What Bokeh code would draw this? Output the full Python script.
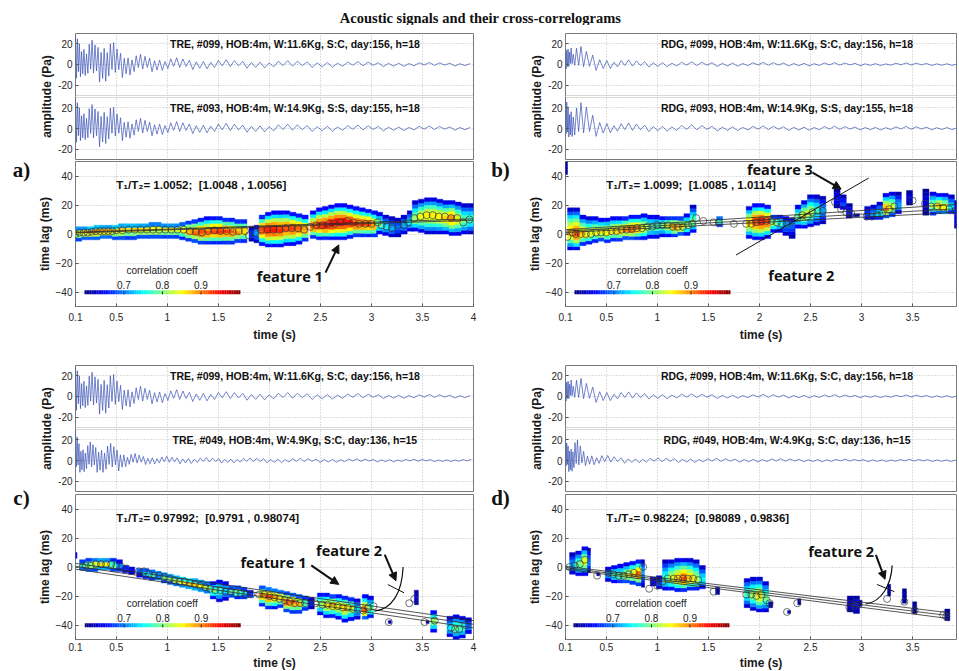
import numpy as np
from bokeh.plotting import figure
from bokeh.models import (Range1d, FixedTicker, CustomJSTickFormatter, BoxAnnotation,
                          Label, Arrow, NormalHead, ColumnDataSource)
from bokeh.transform import linear_cmap
from bokeh.layouts import column, row
from bokeh.embed import file_html
from bokeh.resources import INLINE

# ------------------------------------------------------------------ data
TITLE = "Acoustic signals and their cross-correlograms"
X_TICKS_L = [0.1, 0.5, 1, 1.5, 2, 2.5, 3, 3.5, 4]
X_TICKS_R = [0.1, 0.5, 1, 1.5, 2, 2.5, 3, 3.5]
LAG_TICKS = [-40, -20, 0, 20, 40]
CB_TICKS = [0.7, 0.8, 0.9]
PANEL_LETTERS = ["a)", "b)", "c)", "d)"]

# waveform envelopes (positive / negative peaks, Pa) and half periods (s)
WAVE_T = [0.1, 0.15, 0.2, 0.3, 0.4, 0.5, 0.6, 0.8, 1.0, 1.3, 1.6, 2.0, 2.5, 3.0, 3.5, 4.0]
TEXTURE = [1.0, 0.5, 0.85, 0.35, 0.7, 0.95, 0.45, 0.75, 0.55, 0.9, 0.4, 0.65, 0.8, 0.3]

tre099_pos = [30, 28, 26, 22, 30, 18, 12, 9, 7, 5.5, 4.5, 4, 3.5, 2.5, 2, 1.5]
tre099_neg = [-30, -12, -12, -18, -18, -15, -12, -8, -6, -5, -4, -3.5, -3, -2.2, -1.8, -1.3]
tre093_pos = [30, 28, 25, 22, 30, 17, 12, 9, 7, 6, 5, 4.5, 4, 3, 2.5, 2]
tre093_neg = [-30, -12, -12, -20, -16, -14, -11, -8, -6, -5, -4, -3.5, -3, -2.5, -2, -1.5]
tre049_pos = [30, 20, 18, 18, 18, 15, 8, 5, 4, 3, 2.5, 2.5, 2, 1.5, 1.2, 1]
tre049_neg = [-12, -12, -12, -12, -13, -12, -6, -4, -3.5, -3, -2.5, -2.5, -2, -1.5, -1.2, -1]
tre_hp = [0.009, 0.011, 0.013, 0.015, 0.015, 0.017, 0.019, 0.023, 0.028, 0.035, 0.04, 0.045, 0.05, 0.05, 0.05, 0.05]
tre049_hp = [0.008, 0.01, 0.012, 0.014, 0.015, 0.016, 0.018, 0.022, 0.025, 0.03, 0.03, 0.035, 0.04, 0.04, 0.04, 0.04]

rdg099_pos = [12, 30, 20, 15, 12, 7, 5, 4, 3.5, 2.5, 2.5, 2, 2, 1.5, 1.5, 1.2]
rdg099_neg = [-10, 2, -2, -5, -6, -5, -3.5, -3, -2.5, -2, -2, -1.5, -1.5, -1.2, -1, -1]
rdg093_pos = [30, 30, 25, 25, 15, 9, 6, 5, 4, 3.5, 3, 2.5, 2.5, 2, 2, 1.5]
rdg093_neg = [-10, -8, -10, -8, -8, -5, -4, -3.5, -3, -2.5, -2.5, -2, -2, -1.5, -1.5, -1]
rdg049_pos = [20, 20, 22, 10, 7, 5, 4, 3, 2.5, 2.5, 2, 2, 1.5, 1.2, 1.2, 1]
rdg049_neg = [-10, -12, -10, -5, -4.5, -3.5, -3, -2.5, -2.2, -2, -1.8, -1.5, -1.2, -1.2, -1, -1]
rdg_hp = [0.006, 0.008, 0.02, 0.03, 0.035, 0.035, 0.035, 0.04, 0.045, 0.05, 0.05, 0.05, 0.05, 0.05, 0.05, 0.05]
rdg049_hp = [0.006, 0.008, 0.012, 0.02, 0.025, 0.03, 0.035, 0.035, 0.04, 0.04, 0.045, 0.045, 0.045, 0.045, 0.045, 0.045]

wave_labels = {
    "a1": "TRE, #099, HOB:4m, W:11.6Kg, S:C, day:156, h=18",
    "a2": "TRE, #093, HOB:4m, W:14.9Kg, S:S, day:155, h=18",
    "b1": "RDG, #099, HOB:4m, W:11.6Kg, S:C, day:156, h=18",
    "b2": "RDG, #093, HOB:4m, W:14.9Kg, S:S, day:155, h=18",
    "c1": "TRE, #099, HOB:4m, W:11.6Kg, S:C, day:156, h=18",
    "c2": "TRE, #049, HOB:4m, W:4.9Kg, S:C, day:136, h=15",
    "d1": "RDG, #099, HOB:4m, W:11.6Kg, S:C, day:156, h=18",
    "d2": "RDG, #049, HOB:4m, W:4.9Kg, S:C, day:136, h=15",
}
ratio_text = {
    "a": "T\u2081/T\u2082= 1.0052; \u00a0[1.0048 , 1.0056]",
    "b": "T\u2081/T\u2082= 1.0099; \u00a0[1.0085 , 1.0114]",
    "c": "T\u2081/T\u2082= 0.97992; \u00a0[0.9791 , 0.98074]",
    "d": "T\u2081/T\u2082= 0.98224; \u00a0[0.98089 , 0.9836]",
}

# correlogram columns: (time s, peak lag ms, peak corr, top lag, bottom lag[, width s])
a_columns = [
    (0.13, 1, 0.86, 5, -5), (0.19, 1, 0.88, 5, -4), (0.25, 1.5, 0.9, 5, -4), (0.31, 2, 0.9, 6, -4),
    (0.37, 2, 0.9, 6, -3), (0.43, 2, 0.89, 6, -3), (0.49, 2.5, 0.88, 6, -4), (0.55, 2.5, 0.88, 7, -4),
    (0.61, 3, 0.86, 7, -4), (0.67, 3, 0.87, 7, -4), (0.73, 3, 0.87, 7, -3), (0.79, 3, 0.87, 7, -3),
    (0.85, 3, 0.86, 8, -3), (0.91, 3, 0.86, 8, -3), (0.97, 3, 0.85, 7, -3), (1.03, 3, 0.86, 7, -3),
    (1.09, 3, 0.85, 7, -3), (1.15, 3, 0.86, 8, -4),
    (1.21, 2, 0.9, 9, -5), (1.27, 1.5, 0.92, 10, -6), (1.33, 1, 0.93, 11, -7), (1.39, 1, 0.92, 12, -7),
    (1.45, 2, 0.93, 12, -7), (1.51, 2, 0.94, 12, -7), (1.57, 2, 0.93, 11, -7), (1.63, 1.5, 0.92, 11, -7),
    (1.69, 1.5, 0.9, 10, -6), (1.75, 2, 0.88, 10, -6),
    (1.83, 0, 0.68, 5, -5), (1.88, 1, 0.72, 6, -6),
    (1.93, 3, 0.93, 13, -8), (1.99, 3, 0.95, 15, -9), (2.05, 3, 0.95, 16, -9), (2.11, 3, 0.94, 16, -9),
    (2.17, 4, 0.93, 16, -8), (2.23, 4, 0.93, 15, -8), (2.29, 4, 0.92, 14, -7), (2.35, 3, 0.9, 13, -5),
    (2.43, 5, 0.92, 16, -3), (2.49, 6, 0.94, 18, -4), (2.55, 6, 0.95, 19, -4), (2.61, 7, 0.96, 20, -4),
    (2.67, 8, 0.96, 21, -4), (2.73, 8, 0.96, 21, -4), (2.79, 8, 0.95, 20, -3), (2.85, 7, 0.94, 19, -2),
    (2.91, 7, 0.93, 18, -2), (2.97, 7, 0.93, 17, -2), (3.03, 6, 0.9, 16, -2),
    (3.08, 7, 0.8, 15, 0), (3.14, 5, 0.75, 13, -1), (3.2, 4, 0.72, 12, -2), (3.26, 5, 0.7, 11, -2),
    (3.32, 6, 0.72, 13, 0), (3.38, 8, 0.75, 16, 2),
    (3.43, 10, 0.82, 23, 2), (3.49, 12, 0.85, 24, 1), (3.55, 13, 0.86, 25, 0), (3.61, 13, 0.86, 25, 0),
    (3.67, 12, 0.86, 24, 0), (3.73, 11, 0.87, 23, 0), (3.79, 11, 0.9, 23, -1), (3.85, 10, 0.85, 22, -1),
    (3.91, 9, 0.8, 21, 0), (3.97, 10, 0.78, 21, 0),
]
a_circles = [
    (0.1, 0), (0.14, 1), (0.18, 1), (0.22, 1), (0.26, 1.5), (0.3, 2), (0.34, 2), (0.38, 2), (0.42, 2),
    (0.46, 2), (0.5, 2.5), (0.56, 2.5), (0.62, 3), (0.68, 3), (0.74, 3), (0.8, 3), (0.86, 3), (0.92, 3),
    (0.98, 3), (1.04, 3), (1.1, 3), (1.16, 3), (1.22, 2), (1.28, 1.5), (1.34, 1), (1.4, 2), (1.46, 2.5),
    (1.52, 2), (1.58, 2), (1.64, 1.5), (1.7, 2), (1.76, 2), (1.8, -1), (1.86, 1), (1.92, 3), (1.98, 3),
    (2.04, 3), (2.1, 3), (2.16, 4), (2.22, 4), (2.28, 4), (2.34, 3), (2.4, 5), (2.46, 6), (2.52, 6),
    (2.58, 7), (2.64, 7), (2.7, 8), (2.76, 9), (2.82, 8), (2.88, 7), (2.94, 7), (3.0, 7), (3.06, 8),
    (3.1, 6), (3.15, 5), (3.2, 4), (3.26, 6), (3.32, 6), (3.36, 8), (3.42, 11), (3.48, 12), (3.54, 13),
    (3.6, 13), (3.66, 12), (3.72, 12), (3.78, 11), (3.84, 11), (3.9, 8), (3.96, 10),
]
a_fits = [(0.1, 1.2, 4.0, 10.5), (0.1, 0.8, 4.0, 9.5)]

b_columns = [
    (0.105, 45, 0.62, 50, 41, 0.03), (0.15, 1, 0.88, 18, -11), (0.21, 0, 0.92, 18, -11),
    (0.27, 0, 0.88, 13, -8), (0.33, 0, 0.85, 12, -7), (0.39, 1, 0.85, 12, -6), (0.45, 1, 0.86, 11, -5),
    (0.51, 1, 0.86, 11, -6), (0.57, 2, 0.87, 12, -5), (0.63, 2, 0.88, 12, -5), (0.69, 3, 0.9, 12, -4),
    (0.75, 3, 0.92, 13, -4), (0.81, 4, 0.9, 13, -4), (0.87, 4, 0.85, 14, -4), (0.93, 5, 0.8, 13, -3),
    (0.99, 5, 0.78, 13, -3), (1.05, 6, 0.8, 12, -2), (1.11, 6, 0.85, 12, -2), (1.17, 5, 0.9, 12, -2),
    (1.23, 5, 0.88, 12, -1), (1.29, 6, 0.82, 14, -1), (1.35, 8, 0.8, 20, 1), (1.61, 9, 0.78, 12, 5),
    (1.9, 8, 0.88, 19, -3), (1.96, 9, 0.93, 21, -4), (2.02, 9, 0.95, 21, -4), (2.08, 9, 0.93, 20, -3),
    (2.14, 8, 0.82, 13, 1), (2.2, 8, 0.78, 13, 1), (2.26, 7, 0.72, 12, -1), (2.32, 8, 0.7, 11, -3),
    (2.38, 12, 0.8, 20, 4), (2.44, 13, 0.85, 23, 4), (2.5, 15, 0.83, 27, 5), (2.56, 16, 0.78, 27, 6),
    (2.62, 16, 0.72, 26, 7), (2.76, 24, 0.66, 31, 18), (2.82, 20, 0.68, 27, 17), (2.88, 15, 0.66, 21, 11),
    (2.95, 13, 0.62, 14, 12), (3.06, 14, 0.68, 19, 10), (3.12, 14, 0.72, 20, 10), (3.18, 14, 0.75, 22, 10),
    (3.24, 17, 0.9, 28, 11), (3.3, 18, 0.85, 29, 12), (3.36, 19, 0.72, 29, 14), (3.47, 25, 0.64, 30, 20),
    (3.63, 22, 0.64, 31, 13), (3.7, 19, 0.82, 29, 13), (3.76, 19, 0.88, 28, 14), (3.82, 18, 0.86, 28, 14),
    (3.88, 18, 0.75, 27, 14), (3.94, 16, 0.66, 23, 4),
]
b_circles = [
    (0.12, -2), (0.17, 1), (0.2, 0), (0.25, 0), (0.3, 0), (0.35, 0), (0.4, 1), (0.45, 1), (0.5, 1),
    (0.55, 2), (0.6, 2), (0.65, 3), (0.7, 3), (0.75, 3.5), (0.8, 4), (0.85, 4), (0.9, 5), (0.95, 5),
    (1.0, 6), (1.05, 6), (1.1, 6), (1.15, 5), (1.2, 5), (1.25, 5), (1.3, 6), (1.34, 7), (1.38, 11),
    (1.45, 9), (1.55, 8), (1.6, 8), (1.75, 7), (1.87, 7), (1.92, 7), (1.97, 8), (2.02, 9), (2.07, 9),
    (2.12, 9), (2.17, 8), (2.22, 7), (2.27, 7), (2.32, 9), (2.37, 11), (2.42, 13), (2.47, 12), (2.52, 15),
    (2.57, 16), (2.62, 16), (2.74, 22), (2.8, 17), (2.85, 15), (2.9, 14), (3.05, 12), (3.1, 12),
    (3.15, 13), (3.2, 14), (3.27, 17), (3.32, 19), (3.5, 23), (3.62, 21), (3.68, 19), (3.74, 19),
    (3.8, 18), (3.86, 17), (3.92, 16),
]
b_fits = [(0.1, 3, 3.95, 20.5), (0.1, 2, 3.95, 17.5), (0.1, 1, 3.95, 15)]

c_columns = [
    (0.1, 8, 0.68, 10, 6, 0.03), (0.17, 1, 0.78, 5, -2), (0.23, 1, 0.82, 6, -3), (0.29, 2, 0.85, 6, -3),
    (0.35, 2, 0.86, 6, -2), (0.41, 2, 0.85, 6, -2), (0.47, 1, 0.8, 6, -3), (0.53, 0, 0.72, 5, -3),
    (0.59, -1, 0.68, 1, -4), (0.65, -2, 0.66, 0, -5), (0.73, -3, 0.7, -1, -7), (0.79, -4, 0.76, -1, -8),
    (0.85, -5, 0.78, -2, -9), (0.91, -6, 0.76, -3, -9), (0.97, -7, 0.8, -4, -11), (1.03, -8, 0.82, -5, -12),
    (1.09, -9, 0.84, -6, -13), (1.15, -10, 0.86, -7, -14), (1.21, -11, 0.88, -8, -15),
    (1.27, -12, 0.87, -8, -16), (1.33, -13, 0.85, -9, -17), (1.39, -14, 0.82, -10, -18),
    (1.45, -16, 0.8, -10, -22), (1.51, -16, 0.78, -9, -24), (1.57, -16, 0.74, -10, -23),
    (1.63, -17, 0.78, -13, -21), (1.69, -17, 0.8, -13, -22), (1.75, -18, 0.76, -14, -22),
    (1.81, -19, 0.7, -16, -21), (1.93, -19, 0.9, -13, -27), (1.99, -20, 0.93, -14, -29),
    (2.05, -20, 0.9, -15, -29), (2.11, -21, 0.88, -16, -28), (2.17, -24, 0.93, -17, -31),
    (2.23, -24, 0.92, -18, -32), (2.29, -25, 0.88, -19, -32), (2.35, -25, 0.8, -20, -30),
    (2.41, -25, 0.66, -21, -29), (2.5, -25, 0.82, -18, -33), (2.56, -26, 0.86, -18, -35),
    (2.62, -26, 0.88, -19, -35), (2.68, -27, 0.86, -19, -36), (2.74, -28, 0.88, -20, -38),
    (2.8, -28, 0.84, -21, -37), (2.86, -29, 0.75, -22, -36), (2.94, -30, 0.92, -19, -36),
    (2.99, -29, 0.8, -20, -35), (3.18, -38, 0.62, -37, -39, 0.03), (3.44, -22, 0.64, -16, -26, 0.04),
    (3.55, -38, 0.62, -37, -39, 0.03), (3.61, -37, 0.82, -30, -45), (3.77, -42, 0.75, -34, -48),
    (3.83, -42, 0.8, -33, -50), (3.89, -42, 0.78, -34, -49), (3.95, -41, 0.7, -35, -46),
]
c_circles = [
    (0.17, 0), (0.2, 1), (0.25, 1), (0.3, 2), (0.35, 2), (0.4, 2), (0.45, 2), (0.5, 1), (0.55, 0),
    (0.6, -1), (0.72, -3), (0.77, -3), (0.82, -5), (0.87, -6), (0.92, -6), (0.97, -7), (1.02, -8),
    (1.07, -9), (1.12, -10), (1.17, -10), (1.22, -11), (1.27, -12), (1.32, -13), (1.37, -14),
    (1.42, -15), (1.47, -16), (1.52, -16), (1.57, -17), (1.62, -17), (1.67, -18), (1.72, -18),
    (1.77, -19), (1.82, -19), (1.9, -19), (1.95, -19), (2.0, -20), (2.05, -21), (2.1, -22), (2.15, -23),
    (2.2, -24), (2.25, -25), (2.3, -25), (2.35, -25), (2.45, -25), (2.52, -26), (2.57, -26), (2.62, -27),
    (2.67, -27), (2.72, -28), (2.77, -28), (2.82, -29), (2.87, -29), (2.92, -30), (2.97, -28),
    (3.02, -27), (3.17, -38), (3.37, -25), (3.42, -22), (3.52, -38), (3.62, -37), (3.78, -42),
    (3.82, -43), (3.86, -43), (3.92, -40),
]
c_fits = [(0.1, 2.5, 4.0, -37), (0.1, 0.5, 4.0, -39.5), (0.1, -1.5, 4.0, -42)]

d_columns = [
    (0.17, 1, 0.72, 10, -5), (0.23, 2, 0.8, 11, -6), (0.29, 4, 0.85, 14, -6), (0.33, 3, 0.7, 13, -4, 0.03),
    (0.42, -5, 0.62, -4, -6, 0.03), (0.52, -5, 0.72, 0, -10), (0.58, -5, 0.78, 1, -11),
    (0.64, -6, 0.8, 2, -11), (0.7, -6, 0.84, 3, -11), (0.76, -5, 0.87, 4, -12), (0.82, -5, 0.92, 5, -13),
    (0.86, -3, 0.72, 5, -14, 0.03), (0.96, -10, 0.66, -7, -13), (1.02, -11, 0.68, -6, -15),
    (1.08, -9, 0.78, 5, -16), (1.14, -8, 0.84, 5, -16), (1.2, -8, 0.88, 6, -17), (1.26, -8, 0.92, 6, -17),
    (1.32, -8, 0.88, 6, -16), (1.38, -9, 0.84, 5, -16), (1.44, -9, 0.76, 1, -15),
    (1.59, -17, 0.62, -14, -19, 0.04), (1.88, -18, 0.78, -8, -28), (1.94, -19, 0.82, -7, -30),
    (2.0, -20, 0.86, -7, -31), (2.06, -21, 0.8, -10, -31), (2.11, -26, 0.62, -24, -28, 0.04),
    (2.29, -31, 0.62, -30, -32, 0.03), (2.39, -24, 0.62, -22, -26, 0.03), (2.89, -26, 0.64, -20, -31),
    (2.95, -26, 0.66, -20, -32), (2.99, -25, 0.62, -23, -27, 0.03), (3.27, -16, 0.62, -12, -20, 0.03),
    (3.42, -20, 0.62, -15, -25, 0.04), (3.52, -28, 0.62, -24, -32, 0.04), (3.84, -33, 0.62, -29, -37, 0.05),
]
d_circles = [
    (0.14, 0), (0.19, 1), (0.24, 2), (0.29, 5), (0.41, -6), (0.52, -4), (0.57, -5), (0.62, -6), (0.67, -6),
    (0.72, -5), (0.77, -4), (0.86, 0), (0.92, -15), (0.97, -10), (1.0, -13), (1.05, -10), (1.1, -8),
    (1.16, -8), (1.2, -8), (1.25, -8), (1.3, -8), (1.35, -8), (1.4, -9), (1.55, -17), (1.87, -19),
    (1.92, -19), (1.97, -20), (2.02, -19), (2.07, -23), (2.1, -25), (2.27, -31), (2.37, -25), (2.88, -28),
    (2.93, -27), (2.97, -26), (3.25, -22), (3.42, -24), (3.52, -30), (3.8, -33), (3.83, -34),
]
d_fits = [(0.1, 0.5, 3.85, -31.5), (0.1, -0.5, 3.85, -33.5), (0.1, -1.5, 3.85, -35.5)]

# ------------------------------------------------------------------ helpers
FONT = "Liberation Sans"
WAVE_COLOR = "#3a52b4"


def jet(n=256):
    out = []
    for i in range(n):
        x = i / (n - 1)
        r = min(max(1.5 - abs(4 * x - 3), 0), 1)
        g = min(max(1.5 - abs(4 * x - 2), 0), 1)
        b = min(max(1.5 - abs(4 * x - 1), 0), 1)
        out.append("#%02x%02x%02x" % (round(r * 255), round(g * 255), round(b * 255)))
    return out


JET = jet(256)
CMAP_LOW, CMAP_HIGH = 0.6, 1.0


def build_wave(pos, neg, hp, t_end=4.0):
    ts, ys = [], []
    t, k = WAVE_T[0], 0
    while t <= t_end:
        env = float(np.interp(t, WAVE_T, pos if k % 2 == 0 else neg))
        ys.append(float(np.clip(env * TEXTURE[k % len(TEXTURE)], -30, 30)))
        ts.append(t)
        t += float(np.interp(t, WAVE_T, hp))
        k += 1
    return ts, ys


def build_cells(cols, dh=2.5):
    xs, ys, ws, hs, rs = [], [], [], [], []
    for col in cols:
        t, c, r, top, bot = col[:5]
        w = col[5] if len(col) > 5 else 0.06
        n = max(1, int(round((top - bot) / dh)))
        h = (top - bot) / n
        for i in range(n):
            y = bot + h * (i + 0.5)
            d = y - c
            ext = (top - c) if d > 0 else (c - bot)
            frac = min(abs(d) / ext, 1.0) if ext > 0 else 1.0
            xs.append(t); ys.append(y); ws.append(w); hs.append(h + 0.05)
            rs.append(r - (r - CMAP_LOW) * frac ** 1.5)
    return dict(x=xs, y=ys, w=ws, h=hs, r=rs)


def style(p):
    p.background_fill_color = "white"
    p.border_fill_color = "white"
    p.outline_line_color = "#7a7a7a"
    p.outline_line_width = 1
    p.grid.grid_line_color = "#bdbdbd"
    p.grid.grid_line_dash = "1 2"
    p.grid.grid_line_width = 1
    for ax in p.axis:
        ax.axis_line_color = None
        ax.major_tick_in = 3
        ax.major_tick_out = 0
        ax.minor_tick_line_color = None
        ax.major_tick_line_color = "#555555"
        ax.major_label_text_font = FONT
        ax.major_label_text_font_size = "10px"
        ax.major_label_text_color = "#262626"
        ax.major_label_standoff = 3
        ax.axis_label_text_font = FONT
        ax.axis_label_text_font_size = "12px"
        ax.axis_label_text_font_style = "bold"
        ax.axis_label_text_color = "#1a1a1a"
        ax.axis_label_standoff = 1


def make_wave(width, bl, br, top, xend, xticks, s1, s2, lab1, lab2, lab_x):
    p = figure(width=width, height=top + 126 + 1, x_range=Range1d(0.1, xend),
               y_range=Range1d(-92, 30), toolbar_location=None, output_backend="svg",
               min_border_left=bl, min_border_right=br, min_border_top=top, min_border_bottom=1)
    p.extra_y_ranges = {"w2": Range1d(-30, 92)}
    p.xaxis.visible = False
    p.xgrid.ticker = FixedTicker(ticks=xticks)
    p.yaxis.ticker = FixedTicker(ticks=[-82, -62, -42, -20, 0, 20])
    p.yaxis.formatter = CustomJSTickFormatter(
        code="var v = tick < -31 ? tick + 62 : tick; return v.toFixed(0);")
    p.yaxis.axis_label = "amplitude (Pa)"
    style(p)
    t1, y1 = s1
    t2, y2 = s2
    p.line(t1, y1, line_color=WAVE_COLOR, line_width=0.7)
    p.line(t2, y2, line_color=WAVE_COLOR, line_width=0.7, y_range_name="w2")
    p.add_layout(BoxAnnotation(bottom=-32, top=-30, fill_color="white", fill_alpha=1,
                               line_color="#7a7a7a", line_width=1))
    for txt, rng in ((lab1, "default"), (lab2, "w2")):
        p.add_layout(Label(x=lab_x, y=19.5, y_range_name=rng, text=txt, text_align="center",
                           text_baseline="middle", text_font=FONT, text_font_size="10.5px",
                           text_font_style="bold", text_color="#111111"))
    return p


def make_corr(width, bl, br, top, bottom, xend, xticks, cols, circles, fits, ratio, cb_x0,
              lab_standoff=3, axlab_standoff=2):
    p = figure(width=width, height=top + 147 + bottom, x_range=Range1d(0.1, xend),
               y_range=Range1d(-50, 50), toolbar_location=None, output_backend="svg",
               min_border_left=bl, min_border_right=br, min_border_top=top,
               min_border_bottom=bottom)
    p.xaxis.ticker = FixedTicker(ticks=xticks)
    p.xaxis.formatter = CustomJSTickFormatter(code="return String(Math.round(tick*10)/10);")
    p.yaxis.ticker = FixedTicker(ticks=LAG_TICKS)
    p.xaxis.axis_label = "time (s)"
    p.yaxis.axis_label = "time lag (ms)"
    style(p)
    p.xaxis.major_label_standoff = lab_standoff
    p.xaxis.axis_label_standoff = axlab_standoff

    cmap = linear_cmap("r", JET, CMAP_LOW, CMAP_HIGH)
    src = ColumnDataSource(build_cells(cols))
    p.rect(x="x", y="y", width="w", height="h", source=src, fill_color=cmap,
           line_color=cmap, line_width=0.4)

    x0 = [f[0] for f in fits]; y0 = [f[1] for f in fits]
    x1 = [f[2] for f in fits]; y1 = [f[3] for f in fits]
    p.segment(x0, y0, x1, y1, line_color="#2b2b2b", line_width=0.8)

    p.scatter([c[0] for c in circles], [c[1] for c in circles], marker="circle", size=7,
              fill_color=None, line_color="#333333", line_width=0.8, line_alpha=0.85)

    # colour bar (0.6 .. 1.0) drawn in data space
    cb_w = 1.51
    vals = list(np.linspace(CMAP_LOW, CMAP_HIGH, 90))
    cx = [cb_x0 + (v - CMAP_LOW) / (CMAP_HIGH - CMAP_LOW) * cb_w for v in vals]
    p.rect(x=cx, y=[-40.2] * len(vals), width=cb_w / 89 * 1.05, height=2.8,
           fill_color=[JET[int((v - CMAP_LOW) / (CMAP_HIGH - CMAP_LOW) * 255)] for v in vals],
           line_color=None)
    tx = [cb_x0 + (v - CMAP_LOW) / (CMAP_HIGH - CMAP_LOW) * cb_w for v in CB_TICKS]
    p.segment(tx, [-41.6] * 3, tx, [-39.6] * 3, line_color="#222222", line_width=1)
    for v, x in zip(CB_TICKS, tx):
        p.add_layout(Label(x=x, y=-35.5, text=str(v), text_align="center", text_baseline="middle",
                           text_font=FONT, text_font_size="10px", text_color="#222222"))
    p.add_layout(Label(x=cb_x0 + 0.75, y=-25.5, text="correlation coeff", text_align="center",
                       text_baseline="middle", text_font=FONT, text_font_size="10px",
                       text_color="#222222"))
    p.add_layout(Label(x=0.5, y=33.5, text=ratio, text_align="left", text_baseline="middle",
                       text_font=FONT, text_font_size="11.5px", text_font_style="bold",
                       text_color="#111111"))
    return p


def make_letter(width, height, letter, x, y_from_top):
    p = figure(width=width, height=height, x_range=Range1d(0, width), y_range=Range1d(0, height),
               toolbar_location=None, output_backend="svg", min_border=0)
    p.axis.visible = False
    p.grid.visible = False
    p.outline_line_color = None
    p.add_layout(Label(x=x, y=height - y_from_top, text=letter, text_align="center",
                       text_baseline="middle", text_font="Liberation Serif",
                       text_font_size="21px", text_font_style="bold", text_color="#111111"))
    return p


def feature_text(p, x, y, txt):
    p.add_layout(Label(x=x, y=y, text=txt, text_align="center", text_baseline="middle",
                       text_font="Open Sans", text_font_size="14.5px", text_font_style="bold",
                       text_color="#111111"))


def arrow(p, xs, ys, xe, ye):
    p.add_layout(Arrow(end=NormalHead(size=8, fill_color="#111111", line_color="#111111"),
                       x_start=xs, y_start=ys, x_end=xe, y_end=ye,
                       line_color="#111111", line_width=2))


# ------------------------------------------------------------------ build
# left panels: letter strip 34 px, figures 446 px (frame 69..473)
LW_L, WL, BLL, BRL, XEL = 34, 446, 35, 7, 4.0
# right panels: letter strip 44 px (480..524), figures 434 px (frame 559..956)
LW_R, WR, BLR, BRR, XER = 44, 434, 35, 2, 3.93

tre099 = build_wave(tre099_pos, tre099_neg, tre_hp)
tre093 = build_wave(tre093_pos, tre093_neg, tre_hp)
tre049 = build_wave(tre049_pos, tre049_neg, tre049_hp)
rdg099 = build_wave(rdg099_pos, rdg099_neg, rdg_hp)
rdg093 = build_wave(rdg093_pos, rdg093_neg, rdg_hp)
rdg049 = build_wave(rdg049_pos, rdg049_neg, rdg049_hp)

TOP1, TOP2 = 8, 21          # top borders of upper / lower waveform figures
CB1, CB2 = 36, 31           # bottom borders of upper / lower correlograms

wa = make_wave(WL, BLL, BRL, TOP1, XEL, X_TICKS_L, tre099, tre093, wave_labels["a1"], wave_labels["a2"], 2.25)
wb = make_wave(WR, BLR, BRR, TOP1, XER, X_TICKS_R, rdg099, rdg093, wave_labels["b1"], wave_labels["b2"], 2.27)
wc = make_wave(WL, BLL, BRL, TOP2, XEL, X_TICKS_L, tre099, tre049, wave_labels["c1"], wave_labels["c2"], 2.25)
wd = make_wave(WR, BLR, BRR, TOP2, XER, X_TICKS_R, rdg099, rdg049, wave_labels["d1"], wave_labels["d2"], 2.27)

ca = make_corr(WL, BLL, BRL, 1, CB1, XEL, X_TICKS_L, a_columns, a_circles, a_fits, ratio_text["a"], 0.197, 6, 4)
cb = make_corr(WR, BLR, BRR, 1, CB1, XER, X_TICKS_R, b_columns, b_circles, b_fits, ratio_text["b"], 0.197, 6, 4)
cc = make_corr(WL, BLL, BRL, 2, CB2, XEL, X_TICKS_L, c_columns, c_circles, c_fits, ratio_text["c"], 0.2)
cd = make_corr(WR, BLR, BRR, 2, CB2, XER, X_TICKS_R, d_columns, d_circles, d_fits, ratio_text["d"], 0.187)

# panel a annotations
feature_text(ca, 2.2, -29, "feature 1")
arrow(ca, 2.55, -26.6, 2.68, -7.5)
# panel b annotations
cb.segment([1.77], [-14.5], [3.07], [38.6], line_color="#111111", line_width=1)
feature_text(cb, 2.2, 44.5, "feature 3")
arrow(cb, 2.52, 42.3, 2.8, 31)
feature_text(cb, 2.41, -28.4, "feature 2")
# panel c annotations
feature_text(cc, 2.04, 3.4, "feature 1")
arrow(cc, 2.41, 1.1, 2.68, -12)
feature_text(cc, 2.78, 11.2, "feature 2")
arrow(cc, 3.13, 8.5, 3.24, -9.5)
cc.bezier(x0=[3.03], y0=[-30.4], x1=[3.31], y1=[0], cx0=[3.2], cy0=[-29], cx1=[3.3], cy1=[-18],
          line_color="#111111", line_width=1.2)
cc.segment([3.16], [-12.1], [3.32], [-17.8], line_color="#111111", line_width=1)
# panel d annotations
feature_text(cd, 2.8, 11, "feature 2")
arrow(cd, 3.14, 8.4, 3.23, -8.5)
cd.bezier(x0=[3.04], y0=[-25.5], x1=[3.3], y1=[1.1], cx0=[3.2], cy0=[-24], cx1=[3.29], cy1=[-12],
          line_color="#111111", line_width=1.2)
cd.segment([3.15], [-12], [3.32], [-17], line_color="#111111", line_width=1)

H1 = (TOP1 + 127) + (1 + 147 + CB1)
H2 = (TOP2 + 127) + (2 + 147 + CB2)
TITLE_H = 25

la = make_letter(LW_L, H1, PANEL_LETTERS[0], 21, 169 - TITLE_H)
lb = make_letter(LW_R, H1, PANEL_LETTERS[1], 20, 169 - TITLE_H)
lc = make_letter(LW_L, H2, PANEL_LETTERS[2], 21, 497 - TITLE_H - H1)
ld = make_letter(LW_R, H2, PANEL_LETTERS[3], 20, 497 - TITLE_H - H1)

# title strip
tp = figure(width=958, height=TITLE_H, x_range=Range1d(0, 958), y_range=Range1d(0, TITLE_H),
            toolbar_location=None, output_backend="svg", min_border=0)
tp.axis.visible = False
tp.grid.visible = False
tp.outline_line_color = None
tp.add_layout(Label(x=480, y=TITLE_H - 17, text=TITLE, text_align="center", text_baseline="middle",
                    text_font="Liberation Serif", text_font_size="14.5px", text_font_style="bold",
                    text_color="#111111"))

layout = column(tp,
                row(la, column(wa, ca), lb, column(wb, cb)),
                row(lc, column(wc, cc), ld, column(wd, cd)))

open("out.html", "w").write(file_html(layout, INLINE))
